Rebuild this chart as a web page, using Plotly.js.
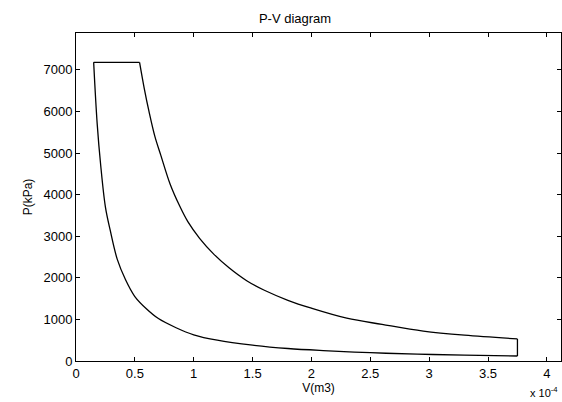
<!DOCTYPE html>
<html>
<head>
<meta charset="utf-8">
<script src="https://cdn.plot.ly/plotly-3.0.1.min.js"></script>
<style>html,body{margin:0;padding:0;background:#fff;}#chart{width:562px;height:402px;}</style>
</head>
<body>
<div id="chart"></div>
<script>
// Volume in units of 1e-4 m3, pressure in kPa
// Top (constant-pressure) segment
var topV = [0.15, 0.54];
var topP = [7180, 7180];
// Expansion curve
var expV = [0.54, 0.58, 0.62, 0.67, 0.72, 0.80, 0.88, 0.95, 1.05, 1.17, 1.30, 1.45, 1.60, 1.80, 2.00, 2.30, 2.60, 2.95, 3.30, 3.75];
var expP = [7180, 6550, 6000, 5400, 4950, 4250, 3730, 3350, 2950, 2570, 2240, 1930, 1700, 1460, 1270, 1030, 880, 720, 620, 530];
// Constant-volume drop
var dropV = [3.75, 3.75];
var dropP = [530, 120];
// Compression curve (back to start)
var cmpV = [3.75, 3.30, 2.90, 2.50, 2.10, 1.80, 1.50, 1.20, 1.00, 0.85, 0.70, 0.60, 0.50, 0.42, 0.35, 0.29, 0.25, 0.21, 0.18, 0.15];
var cmpP = [120, 140, 165, 200, 250, 300, 380, 500, 630, 800, 1020, 1250, 1550, 1960, 2450, 3150, 3700, 4700, 5700, 7180];

var xTicks = [0, 0.5, 1, 1.5, 2, 2.5, 3, 3.5, 4];
var xTickText = ['0', '0.5', '1', '1.5', '2', '2.5', '3', '3.5', '4'];
var yTicks = [0, 1000, 2000, 3000, 4000, 5000, 6000, 7000];

var font = {family: 'Liberation Sans, Arial, Helvetica, sans-serif', size: 12, color: '#000'};
var tickFont = {family: font.family, size: 13, color: '#000'};

function seg(x, y, shape) {
  return {
    x: x, y: y, type: 'scatter', mode: 'lines',
    line: {color: '#000', width: 1.3, shape: shape, smoothing: 1},
    hoverinfo: 'x+y', showlegend: false
  };
}

var traces = [
  seg(topV, topP, 'linear'),
  seg(expV, expP, 'spline'),
  seg(dropV, dropP, 'linear'),
  seg(cmpV, cmpP, 'spline')
];

var axisCommon = {
  showgrid: false, zeroline: false, showline: true, linecolor: '#000', linewidth: 1,
  mirror: 'ticks', ticks: 'inside', ticklen: 4, tickcolor: '#000', tickwidth: 1,
  tickfont: tickFont
};

var layout = {
  width: 562, height: 402,
  margin: {l: 76, r: 1, t: 33, b: 41},
  paper_bgcolor: '#fff', plot_bgcolor: '#fff',
  font: font,
  title: {text: 'P-V diagram', font: {family: font.family, size: 13, color: '#000'},
          x: 295/562, xref: 'container', xanchor: 'center', y: 1 - 18/402, yref: 'container', yanchor: 'middle'},
  xaxis: Object.assign({}, axisCommon, {
    range: [0, 4.12], tickvals: xTicks, ticktext: xTickText,
    title: {text: 'V(m3)', font: font, standoff: 3}
  }),
  yaxis: Object.assign({}, axisCommon, {
    range: [0, 7885], tickvals: yTicks, tickformat: 'd',
    title: {text: 'P(kPa)', font: font, standoff: 8}
  }),
  annotations: [{
    text: 'x 10<sup>-4</sup>', xref: 'paper', yref: 'paper', x: 1, y: 0,
    xanchor: 'right', yanchor: 'top', yshift: -22, xshift: -1, showarrow: false,
    font: {family: font.family, size: 11, color: '#000'}
  }]
};

Plotly.newPlot('chart', traces, layout, {displayModeBar: false, staticPlot: true});
</script>
</body>
</html>
